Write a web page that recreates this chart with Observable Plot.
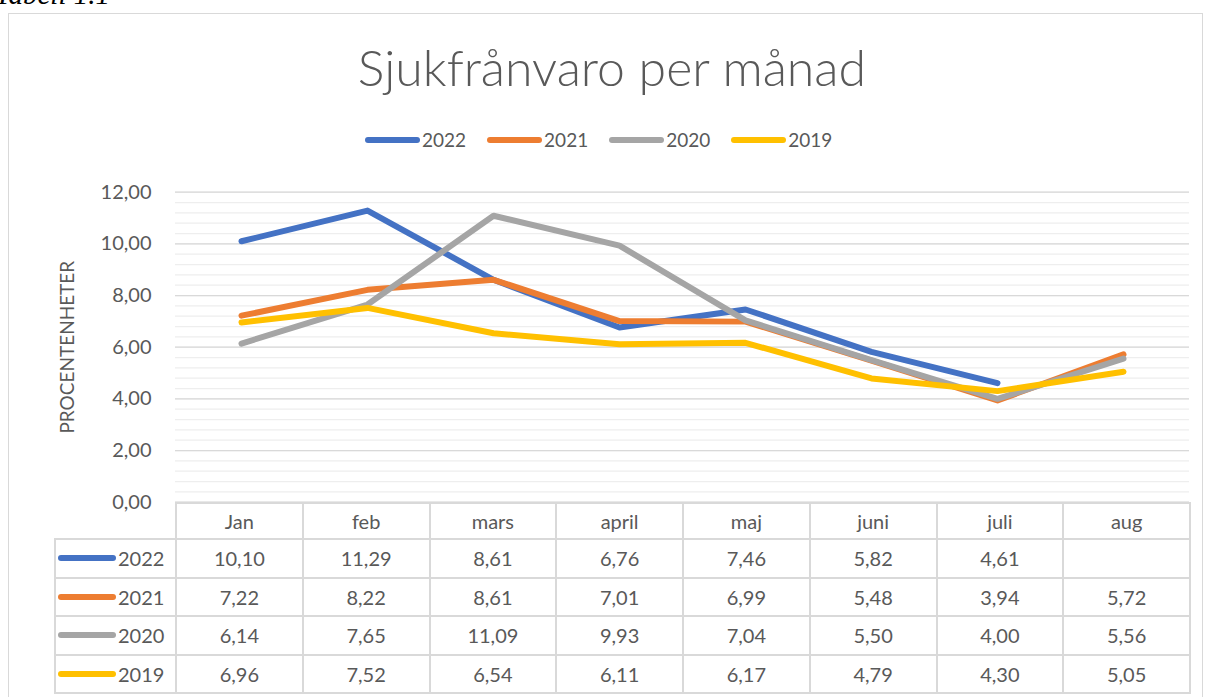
<!DOCTYPE html>
<html>
<head>
<meta charset="utf-8">
<script src="https://cdn.jsdelivr.net/npm/d3@7"></script>
<script src="https://cdn.jsdelivr.net/npm/@observablehq/plot@0.6"></script>
<style>
  html, body { margin: 0; padding: 0; background: #fff; width: 1206px; height: 697px; overflow: hidden; position: relative; font-family: Lato, "Open Sans", sans-serif; color: #595959; }
  #caption { position: absolute; left: -5px; top: -22px; font-family: "Liberation Serif", "DejaVu Serif", serif; font-style: italic; font-size: 29px; color: #000; white-space: nowrap; line-height: 1.15; }
  #box { position: absolute; left: 8px; top: 13px; width: 1195px; height: 700px; border: 1px solid #d9d9d9; box-sizing: border-box; }
  #title { position: absolute; left: 0; width: 1224px; top: 37px; text-align: center; font-size: 50px; font-weight: 300; color: #595959; white-space: nowrap; line-height: 1.2; }
  #legend { position: absolute; left: 365px; top: 128px; display: flex; align-items: center; font-size: 19px; }
  #legend .item { display: flex; align-items: center; margin-right: 21px; }
  .sw { display: inline-block; width: 55px; height: 6px; border-radius: 3px; margin-right: 2px; }
  #chart { position: absolute; left: 0; top: 0; }
  #tbl { position: absolute; left: 54px; top: 502px; border-collapse: collapse; font-size: 20px; color: #595959; }
  #tbl td { border: 2px solid #d9d9d9; height: 38.6px; padding: 0; text-align: center; box-sizing: border-box; line-height: 1; }
  #tbl tr.head td { height: 36px; }
  #tbl td.month { width: 126.75px; }
  #tbl td.blank { border: none; border-right: 2px solid #d9d9d9; width: 121px; }
  #tbl td.rowlab { text-align: left; padding-left: 2px; }
  #tbl td.rowlab .wrap { display: flex; align-items: center; }
  #tbl td.rowlab .sw { width: 58px; margin-right: 2px; }
</style>
</head>
<body>
<div id="caption">Tabell 1.1</div>
<div id="box"></div>
<div id="chart"></div>
<div id="title">Sjukfrånvaro per månad</div>
<div id="legend"></div>
<table id="tbl"></table>
<script>
const months = ["Jan", "feb", "mars", "april", "maj", "juni", "juli", "aug"];
const years = ["2022", "2021", "2020", "2019"];
const colors = ["#4472C4", "#ED7D31", "#A5A5A5", "#FFC000"];
const v2022 = [10.10, 11.29, 8.61, 6.76, 7.46, 5.82, 4.61, null];
const v2021 = [7.22, 8.22, 8.61, 7.01, 6.99, 5.48, 3.94, 5.72];
const v2020 = [6.14, 7.65, 11.09, 9.93, 7.04, 5.50, 4.00, 5.56];
const v2019 = [6.96, 7.52, 6.54, 6.11, 6.17, 4.79, 4.30, 5.05];
const yTicks = [0, 2, 4, 6, 8, 10, 12];

const series = { "2022": v2022, "2021": v2021, "2020": v2020, "2019": v2019 };
const rows = [];
for (const y of years) {
  series[y].forEach((v, i) => { if (v != null) rows.push({ year: y, month: months[i], value: v }); });
}
const fmt = v => v == null ? "" : v.toFixed(2).replace(".", ",");

const chart = Plot.plot({
  width: 1206,
  height: 504,
  marginLeft: 175,
  marginRight: 17,
  marginTop: 191.7,
  marginBottom: 2.3,
  style: { fontFamily: "Lato, 'Open Sans', sans-serif", color: "#595959", background: "transparent", overflow: "visible" },
  x: { type: "point", domain: months, padding: 0.5, axis: null },
  y: { domain: [0, 12], axis: null },
  color: { domain: years, range: colors },
  marks: [
    Plot.ruleY(d3.range(0, 12.001, 0.4), { stroke: "#eeeeee", strokeWidth: 1.3 }),
    Plot.ruleY(yTicks, { stroke: "#d9d9d9", strokeWidth: 1.3 }),
    Plot.axisY({ ticks: yTicks, tickSize: 0, tickPadding: 24, tickFormat: d => fmt(d), fontSize: 20, label: null }),
    Plot.text(["PROCENTENHETER"], { frameAnchor: "left", dx: -108, dy: 0, rotate: -90, textAnchor: "middle", fontSize: 19, fill: "#595959" }),
    Plot.line(rows, { x: "month", y: "value", z: "year", stroke: "year", strokeWidth: 6, strokeLinecap: "round", strokeLinejoin: "round" })
  ]
});
document.getElementById("chart").appendChild(chart);

// legend
const leg = document.getElementById("legend");
years.forEach((y, i) => {
  const it = document.createElement("div");
  it.className = "item";
  it.innerHTML = `<span class="sw" style="background:${colors[i]}"></span><span>${y}</span>`;
  leg.appendChild(it);
});

// data table
const tbl = document.getElementById("tbl");
let tr = document.createElement("tr");
tr.className = "head";
tr.innerHTML = `<td class="blank"></td>` + months.map(m => `<td class="month">${m}</td>`).join("");
tbl.appendChild(tr);
years.forEach((y, i) => {
  const r = document.createElement("tr");
  r.innerHTML = `<td class="rowlab"><div class="wrap"><span class="sw" style="background:${colors[i]}"></span><span>${y}</span></div></td>` +
    series[y].map(v => `<td>${fmt(v)}</td>`).join("");
  tbl.appendChild(r);
});
</script>
</body>
</html>
